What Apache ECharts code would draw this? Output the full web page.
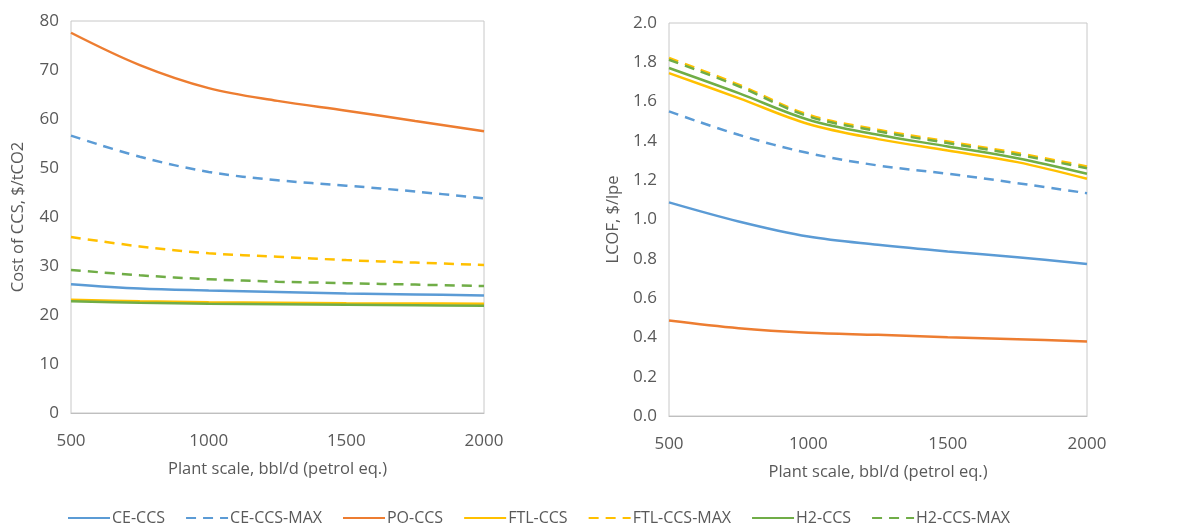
<!DOCTYPE html>
<html>
<head>
<meta charset="utf-8">
<script src="https://cdn.jsdelivr.net/npm/echarts@6/dist/echarts.min.js"></script>
<style>html,body{margin:0;padding:0;background:#fff}#c{width:1177px;height:527px}</style>
</head>
<body>
<div id="c"></div>
<script>
const plantScale = [500, 750, 1000, 1250, 1500, 1750, 2000];
const xTicks = [500, 1000, 1500, 2000];

// Left: Cost of CCS, $/tCO2
const costCE     = [26.3, 25.4, 25.0, 24.7, 24.4, 24.2, 24.0];
const costCEMax  = [56.6, 52.3, 49.2, 47.5, 46.4, 45.2, 43.8];
const costPO     = [77.6, 71.0, 66.3, 63.7, 61.7, 59.6, 57.5];
const costFTL    = [23.1, 22.8, 22.6, 22.5, 22.4, 22.35, 22.3];
const costFTLMax = [35.9, 34.0, 32.6, 31.9, 31.2, 30.7, 30.2];
const costH2     = [22.8, 22.5, 22.3, 22.2, 22.1, 22.0, 21.9];
const costH2Max  = [29.2, 28.1, 27.3, 26.8, 26.5, 26.2, 25.9];

// Right: LCOF, $/lpe
const lcofCE     = [1.087, 0.990, 0.913, 0.871, 0.837, 0.808, 0.773];
const lcofCEMax  = [1.550, 1.431, 1.338, 1.275, 1.233, 1.185, 1.134];
const lcofPO     = [0.486, 0.447, 0.424, 0.413, 0.401, 0.391, 0.379];
const lcofFTL    = [1.745, 1.618, 1.486, 1.409, 1.351, 1.292, 1.207];
const lcofFTLMax = [1.822, 1.686, 1.533, 1.457, 1.397, 1.338, 1.270];
const lcofH2     = [1.771, 1.643, 1.508, 1.431, 1.372, 1.312, 1.233];
const lcofH2Max  = [1.813, 1.678, 1.525, 1.449, 1.389, 1.330, 1.261];

const seriesNames = ['CE-CCS','CE-CCS-MAX','PO-CCS','FTL-CCS','FTL-CCS-MAX','H2-CCS','H2-CCS-MAX'];
const seriesColors = ['#5B9BD5','#5B9BD5','#ED7D31','#FFC000','#FFC000','#70AD47','#70AD47'];
const seriesDashed = [false,true,false,false,true,false,true];
const leftData = [costCE,costCEMax,costPO,costFTL,costFTLMax,costH2,costH2Max];
const rightData = [lcofCE,lcofCEMax,lcofPO,lcofFTL,lcofFTLMax,lcofH2,lcofH2Max];

const font = '"Open Sans", "Liberation Sans", sans-serif';
const txt = '#595959';

function mk(idx, arr){
  return seriesNames.map((n,i)=>({
    name:n, type:'line', xAxisIndex:idx, yAxisIndex:idx,
    data: plantScale.map((x,k)=>[x, arr[i][k]]),
    smooth:0.35, symbol:'none', showSymbol:false,
    lineStyle:{color:seriesColors[i], width:2.5, type: seriesDashed[i]?[10,7]:'solid'},
    itemStyle:{color:seriesColors[i]},
    z: seriesDashed[i]?3:2
  }));
}

const xAxisBase = (gi)=>({
  type:'value', gridIndex:gi, min:500, max:2000, interval:500,
  name:'Plant scale, bbl/d (petrol eq.)', nameLocation:'middle', nameGap:48,
  nameTextStyle:{color:txt, fontSize:16.5, fontFamily:font},
  axisLabel:{color:txt, fontSize:17, fontFamily:font, margin:20, formatter:v=>String(v)},
  axisLine:{show:true, lineStyle:{color:'#bfbfbf'}}, axisTick:{show:false}, splitLine:{show:false}
});

const option = {
  animation:false,
  backgroundColor:'#fff',
  grid:[
    {left:71, right:693, top:21, bottom:114, show:true, borderColor:'#c8c8c8', borderWidth:1},
    {left:669, right:90, top:23, bottom:111, show:true, borderColor:'#c8c8c8', borderWidth:1}
  ],
  legend:{
    data:seriesNames, top:505, left:62, itemWidth:42, itemHeight:12, itemGap:20,
    itemStyle:{opacity:0},
    textStyle:{color:txt, fontSize:16, fontFamily:'"Liberation Sans Narrow", "Open Sans", sans-serif', padding:[0,0,0,-3]}
  },
  xAxis:[xAxisBase(0), xAxisBase(1)],
  yAxis:[
    {type:'value', gridIndex:0, min:0, max:80, interval:10,
     name:'Cost of CCS, $/tCO2', nameLocation:'middle', nameGap:44,
     nameTextStyle:{color:txt, fontSize:16.5, fontFamily:font},
     axisLabel:{color:txt, fontSize:17, fontFamily:font, margin:12},
     axisLine:{show:false}, axisTick:{show:false}, splitLine:{show:false}},
    {type:'value', gridIndex:1, min:0, max:2, interval:0.2,
     name:'LCOF, $/lpe', nameLocation:'middle', nameGap:47,
     nameTextStyle:{color:txt, fontSize:16.5, fontFamily:font},
     axisLabel:{color:txt, fontSize:17, fontFamily:font, margin:12, formatter:v=>v.toFixed(1)},
     axisLine:{show:false}, axisTick:{show:false}, splitLine:{show:false}}
  ],
  series:[...mk(0,leftData), ...mk(1,rightData)]
};

const chart = echarts.init(document.getElementById('c'), null, {renderer:'canvas'});
chart.setOption(option);
</script>
</body>
</html>
